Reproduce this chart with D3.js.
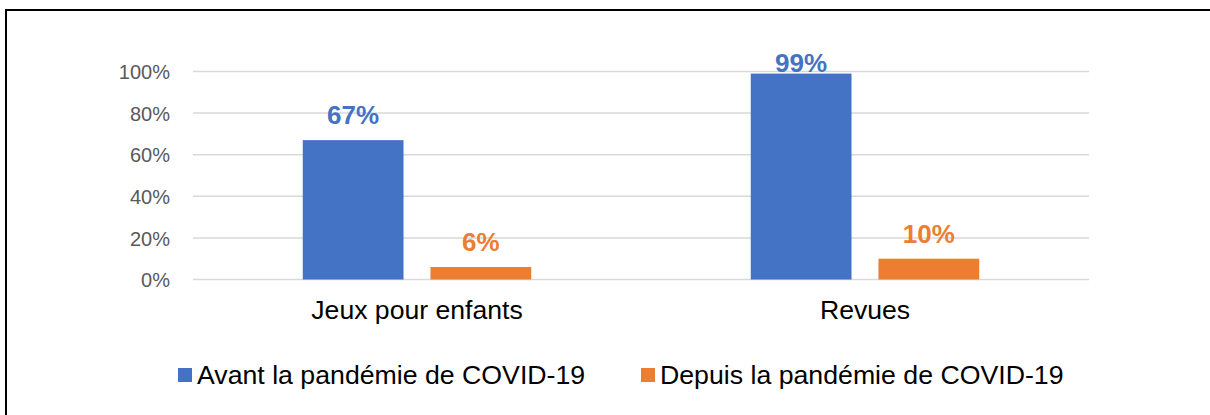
<!DOCTYPE html>
<html>
<head>
<meta charset="utf-8">
<script src="https://cdn.jsdelivr.net/npm/d3@7"></script>
<style>
  body { margin: 0; background: #fff; }
  svg { display: block; font-family: "Liberation Sans", Arial, sans-serif; }
</style>
</head>
<body>
<svg class="chart"></svg>
<script>
(function () {
  var categories = ["Jeux pour enfants", "Revues"];
  var seriesNames = ["Avant la pandémie de COVID-19", "Depuis la pandémie de COVID-19"];
  var avant = [0.67, 0.99];
  var depuis = [0.06, 0.10];
  var yTicks = [0, 0.2, 0.4, 0.6, 0.8, 1.0];
  var colors = ["#4472c4", "#ed7d31"];

  var width = 1210, height = 415;
  var margin = {top: 71.5, right: 121, bottom: 135.5, left: 193};

  var svg = d3.select(".chart")
      .attr("width", width)
      .attr("height", height);

  // outer frame (right and bottom edges fall outside the picture)
  svg.append("rect")
    .attr("x", 6).attr("y", 10)
    .attr("width", 1220).attr("height", 430)
    .attr("fill", "none")
    .attr("stroke", "#000")
    .attr("stroke-width", 2);

  var vis = svg.append("g")
      .attr("transform", "translate(" + margin.left + "," + margin.top + ")");
  var w = width - margin.left - margin.right;
  var h = height - margin.top - margin.bottom;

  var table = categories.map(function(c, i) {
    return {cat: c, values: [avant[i], depuis[i]]};
  });

  var x0 = d3.scaleBand().domain(categories).range([0, w]).paddingInner(0.49).paddingOuter(0.245);
  var x1 = d3.scaleBand().domain([0, 1]).range([0, x0.bandwidth()]).paddingInner(0.211);
  var y = d3.scaleLinear().domain([0, 1]).range([h, 0]);

  // gridlines
  vis.append("g")
    .selectAll("line")
    .data(yTicks)
    .enter().append("line")
      .attr("x1", 0).attr("x2", w)
      .attr("y1", function(d) { return y(d); })
      .attr("y2", function(d) { return y(d); })
      .attr("stroke", "#d9d9d9")
      .attr("stroke-width", 1.5);

  var yaxis = d3.axisLeft(y).tickValues(yTicks).tickSize(0).tickPadding(23)
      .tickFormat(function(d) { return Math.round(d * 100) + "%"; });
  var ya = vis.append("g").call(yaxis);
  ya.select(".domain").remove();
  ya.selectAll("text")
    .attr("fill", "#595959")
    .style("font-size", "20px")
    .attr("dy", "0.36em");

  var groups = vis.selectAll(".grp")
    .data(table)
    .enter().append("g")
      .attr("class", "grp")
      .attr("transform", function(d) { return "translate(" + x0(d.cat) + ",0)"; });

  groups.selectAll("rect")
    .data(function(d) { return d.values; })
    .enter().append("rect")
      .attr("x", function(d, i) { return x1(i); })
      .attr("y", function(d) { return y(d); })
      .attr("width", x1.bandwidth())
      .attr("height", function(d) { return h - y(d); })
      .attr("fill", function(d, i) { return colors[i]; });

  groups.selectAll("text")
    .data(function(d) { return d.values; })
    .enter().append("text")
      .attr("x", function(d, i) { return x1(i) + x1.bandwidth() / 2; })
      .attr("y", function(d) { return Math.max(y(d) - 16, 0.5); })
      .attr("text-anchor", "middle")
      .attr("fill", function(d, i) { return colors[i]; })
      .style("font-size", "26px")
      .style("font-weight", "bold")
      .text(function(d) { return Math.round(d * 100) + "%"; });

  var xaxis = d3.axisBottom(x0).tickSize(0).tickPadding(0);
  var xa = vis.append("g")
    .attr("transform", "translate(0," + h + ")")
    .call(xaxis);
  xa.select(".domain").remove();
  xa.selectAll("text")
    .attr("fill", "#000")
    .attr("y", 39.5)
    .attr("dy", 0)
    .style("font-size", "26.6px");

  // legend
  var legendX = [178, 641];
  var legend = svg.selectAll(".legend")
    .data(seriesNames)
    .enter().append("g")
      .attr("class", "legend")
      .attr("transform", function(d, i) { return "translate(" + legendX[i] + ",368)"; });
  legend.append("rect")
    .attr("width", 14).attr("height", 14)
    .attr("fill", function(d, i) { return colors[i]; });
  legend.append("text")
    .attr("x", 19).attr("y", 16)
    .attr("fill", "#000")
    .style("font-size", "26.7px")
    .text(function(d) { return d; });
})();
</script>
</body>
</html>
